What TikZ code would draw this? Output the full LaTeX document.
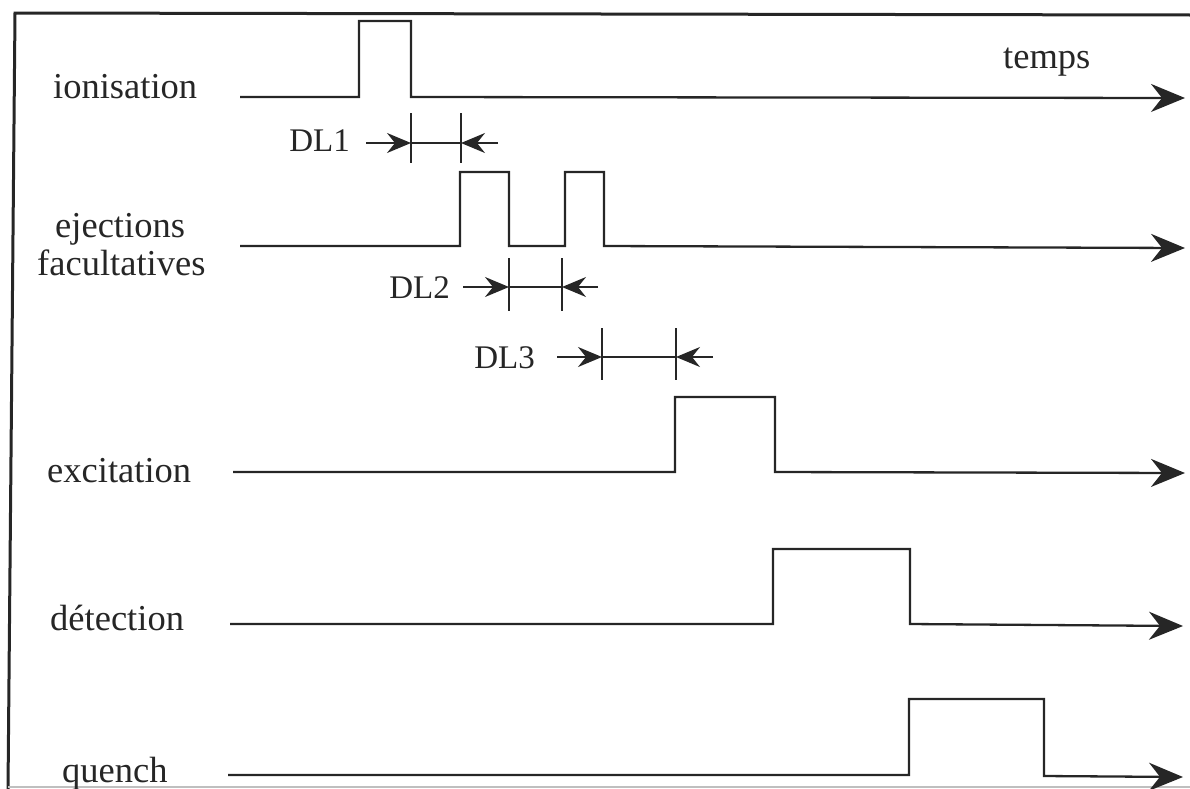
\documentclass[tikz,border=0pt]{standalone}
\usepackage{fontspec}
\setmainfont{Liberation Serif}
\usetikzlibrary{arrows.meta}
\begin{document}
\begin{tikzpicture}[x=1pt,y=-1pt,
  signal/.style={line width=2.3pt,line join=miter,draw=black!85,
    -{Stealth[length=34pt,width=28pt,inset=11pt]}},
  tickline/.style={line width=1.7pt,draw=black!85},
  dlarrow/.style={line width=1.7pt,draw=black!85,
    -{Stealth[length=24pt,width=20pt,inset=8pt]}},
  lbl/.style={anchor=base west,inner sep=0pt,text=black!85,
    font=\fontsize{36.5}{40}\selectfont},
  dllbl/.style={anchor=base east,inner sep=0pt,text=black!85,
    font=\fontsize{33}{36}\selectfont}]
\useasboundingbox (0,0) rectangle (1190,788);
% frame
\draw[line width=3pt,draw=black!85] (8,790) -- (15,13) -- (1192,15);
\draw[line width=1.5pt,draw=black!25] (8,787) -- (1190,787);
% labels
\node[lbl] (l1) at (53,98) {ionisation};
\node[lbl] (l2a) at (55,237) {ejections};
\node[lbl] (l2b) at (37,275) {facultatives};
\node[lbl] (l3) at (47,482) {excitation};
\node[lbl] (l4) at (50,630) {détection};
\node[lbl] (l5) at (62,782) {quench};
\node[lbl] (t) at (1003,68) {temps};
\node[dllbl] (d1) at (350,151) {DL1};
\node[dllbl] (d2) at (450,298) {DL2};
\node[dllbl] (d3) at (535,368) {DL3};
% signals
\draw[signal] (240,97) -- (359,97) -- (359,21) -- (411,21) -- (411,97) -- (1185,98);
\draw[signal] (240,246) -- (460,246) -- (460,172) -- (509,172) -- (509,246)
  -- (565,246) -- (565,172) -- (604,172) -- (604,246) -- (1185,248);
\draw[signal] (233,472) -- (675,472) -- (675,397) -- (775,397) -- (775,472) -- (1185,473);
\draw[signal] (230,624) -- (773,624) -- (773,549) -- (910,549) -- (910,624) -- (1183,626);
\draw[signal] (228,775) -- (909,775) -- (909,699) -- (1044,699) -- (1044,776) -- (1183,777);
% DL1
\coordinate (a1) at (411,143); \coordinate (b1) at (461,143);
\draw[tickline] (411,113) -- (411,163);
\draw[tickline] (461,113) -- (461,163);
\draw[tickline] (a1) -- (b1);
\draw[dlarrow] (366,143) -- (a1);
\draw[dlarrow] (498,143) -- (b1);
% DL2
\coordinate (a2) at (509,287); \coordinate (b2) at (562,287);
\draw[tickline] (509,258) -- (509,311);
\draw[tickline] (562,258) -- (562,311);
\draw[tickline] (a2) -- (b2);
\draw[dlarrow] (463,287) -- (a2);
\draw[dlarrow] (598,287) -- (b2);
% DL3
\coordinate (a3) at (602,357); \coordinate (b3) at (676,357);
\draw[tickline] (602,328) -- (602,380);
\draw[tickline] (676,328) -- (676,380);
\draw[tickline] (a3) -- (b3);
\draw[dlarrow] (557,357) -- (a3);
\draw[dlarrow] (713,357) -- (b3);
\end{tikzpicture}
\end{document}
